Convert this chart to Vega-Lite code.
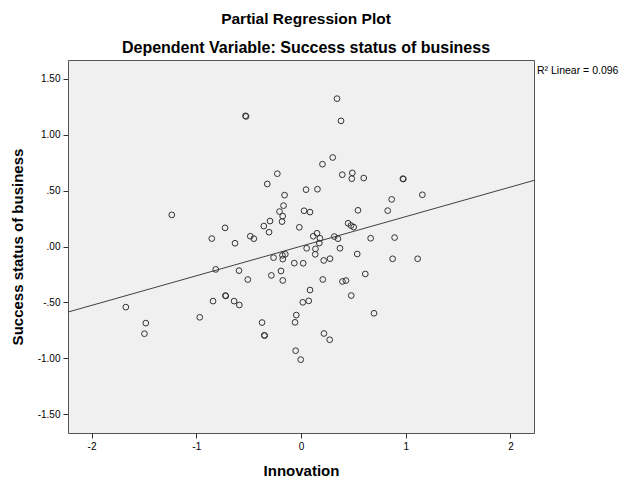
{
  "$schema": "https://vega.github.io/schema/vega-lite/v6.json",
  "width": 466,
  "height": 373,
  "autosize": "none",
  "padding": {"left": 68, "top": 60, "right": 85, "bottom": 44},
  "background": "white",
  "title": {
    "text": "Partial Regression Plot",
    "subtitle": "Dependent Variable: Success status of business",
    "anchor": "middle",
    "dx": 5,
    "offset": 4,
    "font": "Liberation Sans",
    "fontSize": 15.5,
    "fontWeight": "bold",
    "color": "black",
    "subtitleFont": "Liberation Sans",
    "subtitleFontSize": 16,
    "subtitleFontWeight": "bold",
    "subtitleColor": "black",
    "subtitlePadding": 13
  },
  "config": {
    "view": {"fill": "#f0f0f0", "stroke": "#555555", "strokeWidth": 1},
    "axis": {
      "grid": false,
      "domain": false,
      "tickColor": "#333333",
      "tickSize": 5,
      "labelFont": "Liberation Sans",
      "labelFontSize": 10,
      "labelColor": "black",
      "titleFont": "Liberation Sans",
      "titleFontSize": 15,
      "titleFontWeight": "bold",
      "titleColor": "black"
    }
  },
  "datasets": {
    "pts": [
      {"x": -0.530, "y": 1.170}, {"x": -0.525, "y": 1.165},
      {"x": -0.226, "y": 0.652}, {"x": -0.322, "y": 0.560}, {"x": -0.157, "y": 0.460},
      {"x": -1.234, "y": 0.283}, {"x": -0.167, "y": 0.366}, {"x": -0.205, "y": 0.313},
      {"x": -0.175, "y": 0.272}, {"x": -0.181, "y": 0.223}, {"x": -0.296, "y": 0.228},
      {"x": -0.355, "y": 0.183}, {"x": -0.305, "y": 0.128}, {"x": -0.725, "y": 0.167},
      {"x": -0.852, "y": 0.071}, {"x": -0.630, "y": 0.029}, {"x": -0.484, "y": 0.092},
      {"x": -0.450, "y": 0.070}, {"x": -0.016, "y": 0.172}, {"x": 0.344, "y": 1.324},
      {"x": 0.382, "y": 1.125}, {"x": 0.303, "y": 0.797}, {"x": 0.205, "y": 0.737},
      {"x": 0.394, "y": 0.643}, {"x": 0.490, "y": 0.659}, {"x": 0.485, "y": 0.607},
      {"x": 0.599, "y": 0.613}, {"x": 0.973, "y": 0.607}, {"x": 0.977, "y": 0.604},
      {"x": 0.048, "y": 0.509}, {"x": 0.157, "y": 0.513}, {"x": 1.159, "y": 0.463},
      {"x": 0.866, "y": 0.422}, {"x": 0.029, "y": 0.320}, {"x": 0.086, "y": 0.308},
      {"x": 0.544, "y": 0.324}, {"x": 0.828, "y": 0.321}, {"x": 0.450, "y": 0.208},
      {"x": 0.477, "y": 0.188}, {"x": 0.503, "y": 0.174}, {"x": 0.153, "y": 0.118},
      {"x": 0.117, "y": 0.092}, {"x": 0.181, "y": 0.074}, {"x": 0.175, "y": 0.031},
      {"x": 0.318, "y": 0.089}, {"x": 0.353, "y": 0.070}, {"x": 0.665, "y": 0.074},
      {"x": 0.894, "y": 0.080}, {"x": 0.054, "y": -0.016}, {"x": 0.138, "y": -0.021},
      {"x": 0.372, "y": -0.016}, {"x": 0.136, "y": -0.070}, {"x": 0.537, "y": -0.067},
      {"x": -0.262, "y": -0.100}, {"x": -0.177, "y": -0.079}, {"x": -0.150, "y": -0.069},
      {"x": -0.174, "y": -0.113}, {"x": -0.064, "y": -0.149}, {"x": 0.021, "y": -0.150},
      {"x": 0.217, "y": -0.125}, {"x": 0.277, "y": -0.109}, {"x": 0.875, "y": -0.110},
      {"x": 1.114, "y": -0.110}, {"x": -0.814, "y": -0.205}, {"x": -0.592, "y": -0.216},
      {"x": -0.508, "y": -0.296}, {"x": -0.283, "y": -0.259}, {"x": -0.191, "y": -0.219},
      {"x": -0.174, "y": -0.304}, {"x": 0.208, "y": -0.295}, {"x": 0.396, "y": -0.313},
      {"x": 0.429, "y": -0.305}, {"x": 0.614, "y": -0.246}, {"x": 0.480, "y": -0.439},
      {"x": 0.086, "y": -0.390}, {"x": 0.017, "y": -0.500}, {"x": 0.074, "y": -0.487},
      {"x": -1.673, "y": -0.543}, {"x": -1.482, "y": -0.686}, {"x": -1.495, "y": -0.781},
      {"x": -0.967, "y": -0.634}, {"x": -0.840, "y": -0.489}, {"x": -0.722, "y": -0.439},
      {"x": -0.718, "y": -0.443}, {"x": -0.639, "y": -0.489}, {"x": -0.589, "y": -0.524},
      {"x": -0.372, "y": -0.681}, {"x": -0.351, "y": -0.795}, {"x": -0.347, "y": -0.798},
      {"x": -0.045, "y": -0.614}, {"x": -0.057, "y": -0.679}, {"x": 0.697, "y": -0.598},
      {"x": 0.219, "y": -0.779}, {"x": 0.274, "y": -0.835}, {"x": -0.051, "y": -0.933},
      {"x": -0.003, "y": -1.013}
    ],
    "fit": [
      {"x": -2.225, "y": -0.587},
      {"x": 2.225, "y": 0.592}
    ],
    "r2": [
      {"x": 2.225, "y": 1.57, "label": "R² Linear = 0.096"}
    ]
  },
  "encoding": {
    "x": {
      "field": "x",
      "type": "quantitative",
      "scale": {"domain": [-2.225, 2.225], "nice": false, "zero": false},
      "axis": {
        "title": "Innovation",
        "values": [-2, -1, 0, 1, 2],
        "labelExpr": "(datum.value < 0 ? '-' : '') + format(abs(datum.value), 'd')",
        "labelPadding": 3,
        "titlePadding": 12
      }
    },
    "y": {
      "field": "y",
      "type": "quantitative",
      "scale": {"domain": [-1.67, 1.67], "nice": false, "zero": false},
      "axis": {
        "title": "Success status of business",
        "values": [-1.5, -1, -0.5, 0, 0.5, 1, 1.5],
        "labelExpr": "(datum.value < 0 ? '-' : '') + replace(format(abs(datum.value), '.2f'), '0.', '.')",
        "labelPadding": 3,
        "titlePadding": 12
      }
    }
  },
  "layer": [
    {
      "data": {"name": "fit"},
      "mark": {"type": "line", "color": "#404040", "strokeWidth": 1, "clip": true}
    },
    {
      "data": {"name": "pts"},
      "mark": {"type": "point", "shape": "circle", "filled": false, "size": 33, "strokeWidth": 1, "color": "#333333", "opacity": 1}
    },
    {
      "data": {"name": "r2"},
      "mark": {"type": "text", "align": "left", "baseline": "middle", "dx": 3, "font": "Liberation Sans", "fontSize": 10.5, "color": "black", "clip": false},
      "encoding": {"text": {"field": "label"}}
    }
  ]
}
